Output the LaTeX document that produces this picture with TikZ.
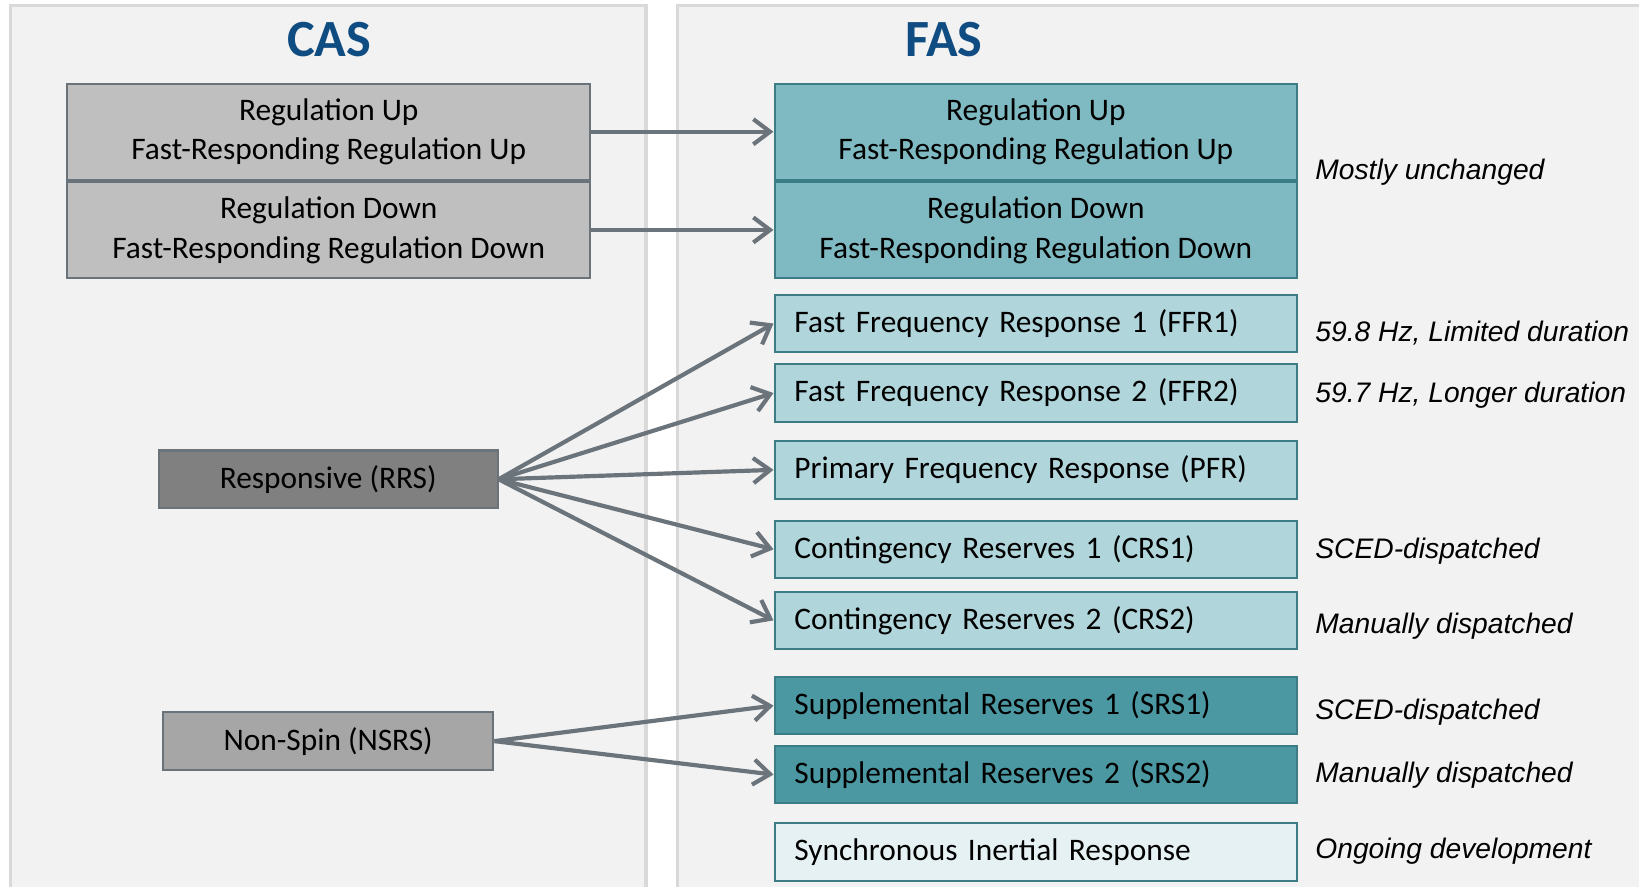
\documentclass[tikz,border=0pt]{standalone}
\usepackage{fontspec}
\setmainfont{Carlito}
\newfontfamily\notefont{Liberation Sans}
\usepackage{xcolor}
\usetikzlibrary{positioning, arrows.meta}
\definecolor{panelfill}{HTML}{F2F2F2}
\definecolor{panelline}{HTML}{D9D9D9}
\definecolor{titleblue}{HTML}{0F4C81}
\definecolor{casline}{HTML}{6B737A}
\definecolor{caslight}{HTML}{BFBFBF}
\definecolor{casdark}{HTML}{808080}
\definecolor{casmid}{HTML}{A6A6A6}
\definecolor{fasline}{HTML}{3C7C85}
\definecolor{fasmid}{HTML}{7FB9C1}
\definecolor{faslight}{HTML}{B0D5DB}
\definecolor{fasdark}{HTML}{4B98A2}
\definecolor{faspale}{HTML}{E6F1F3}
\definecolor{linkgrey}{HTML}{6B747B}

\begin{document}
\begin{tikzpicture}[x=0.5pt, y=-0.5pt, >={Straight Barb[length=8pt, width=12pt]},
  panel/.style={draw=panelline, line width=1.5pt, fill=panelfill},
  title/.style={font=\fontsize{25}{30}\selectfont\bfseries, text=titleblue},
  box/.style={line width=1pt, inner sep=0pt, minimum height=27.5pt, font=\fontsize{15}{19}\selectfont},
  casbox/.style={box, draw=casline, minimum width=250pt, minimum height=46pt, align=center},
  fasbox/.style={box, draw=fasline, minimum width=250pt, text width=231pt, align=left},
  note/.style={anchor=west, inner xsep=0pt, font=\notefont\itshape\fontsize{13.5}{16}\selectfont},
  link/.style={->, draw=linkgrey, line width=2pt}]
  \clip (0,0) rectangle (1568,848);
  \draw[panel] (10,5) rectangle (618,900);
  \draw[panel] (648,5) rectangle (1590,900);
  \node[title] (cas) at (315,38) {CAS};
  \node[title] (fas) at (903,38) {FAS};

  \node[casbox, fill=caslight] (casup) at (314.5,126) {Regulation Up\\Fast-Responding Regulation Up};
  \node[casbox, fill=caslight] (casdown) at (314.5,220) {Regulation Down\\Fast-Responding Regulation Down};
  \node[box, draw=casline, fill=casdark, minimum width=162pt] (rrs) at (314,458.5) {Responsive (RRS)};
  \node[box, draw=casline, fill=casmid, minimum width=158pt] (nsrs) at (314,709) {Non-Spin (NSRS)};

  \node[casbox, draw=fasline, fill=fasmid] (fasup) at (991,126) {Regulation Up\\Fast-Responding Regulation Up};
  \node[casbox, draw=fasline, fill=fasmid] (fasdown) at (991,220) {Regulation Down\\Fast-Responding Regulation Down};
  \node[fasbox, fill=faslight] (ffr1) at (991,309.5) {Fast Frequency Response 1 (FFR1)};
  \node[fasbox, fill=faslight] (ffr2) at (991,376) {Fast Frequency Response 2 (FFR2)};
  \node[fasbox, fill=faslight] (pfr) at (991,449.5) {Primary Frequency Response (PFR)};
  \node[fasbox, fill=faslight] (crs1) at (991,525.5) {Contingency Reserves 1 (CRS1)};
  \node[fasbox, fill=faslight] (crs2) at (991,593.5) {Contingency Reserves 2 (CRS2)};
  \node[fasbox, fill=fasdark] (srs1) at (991,675) {Supplemental Reserves 1 (SRS1)};
  \node[fasbox, fill=fasdark] (srs2) at (991,741) {Supplemental Reserves 2 (SRS2)};
  \node[fasbox, fill=faspale] (sir) at (991,815) {Synchronous Inertial Response};

  \node[note] (n1) at (1258,165) {Mostly unchanged};
  \node[note] (n2) at (1258,319) {59.8 Hz, Limited duration};
  \node[note] (n3) at (1258,378) {59.7 Hz, Longer duration};
  \node[note] (n4) at (1258,527) {SCED-dispatched};
  \node[note] (n5) at (1258,599) {Manually dispatched};
  \node[note] (n6) at (1258,681) {SCED-dispatched};
  \node[note] (n7) at (1258,742) {Manually dispatched};
  \node[note] (n8) at (1258,814) {Ongoing development};

  \draw[link] (casup.east) -- (fasup.west);
  \draw[link] (casdown.east) -- (fasdown.west);
  \draw[link] (rrs.east) -- (ffr1.west);
  \draw[link] (rrs.east) -- (ffr2.west);
  \draw[link] (rrs.east) -- (pfr.west);
  \draw[link] (rrs.east) -- (crs1.west);
  \draw[link] (rrs.east) -- (crs2.west);
  \draw[link] (nsrs.east) -- (srs1.west);
  \draw[link] (nsrs.east) -- (srs2.west);
\end{tikzpicture}
\end{document}
